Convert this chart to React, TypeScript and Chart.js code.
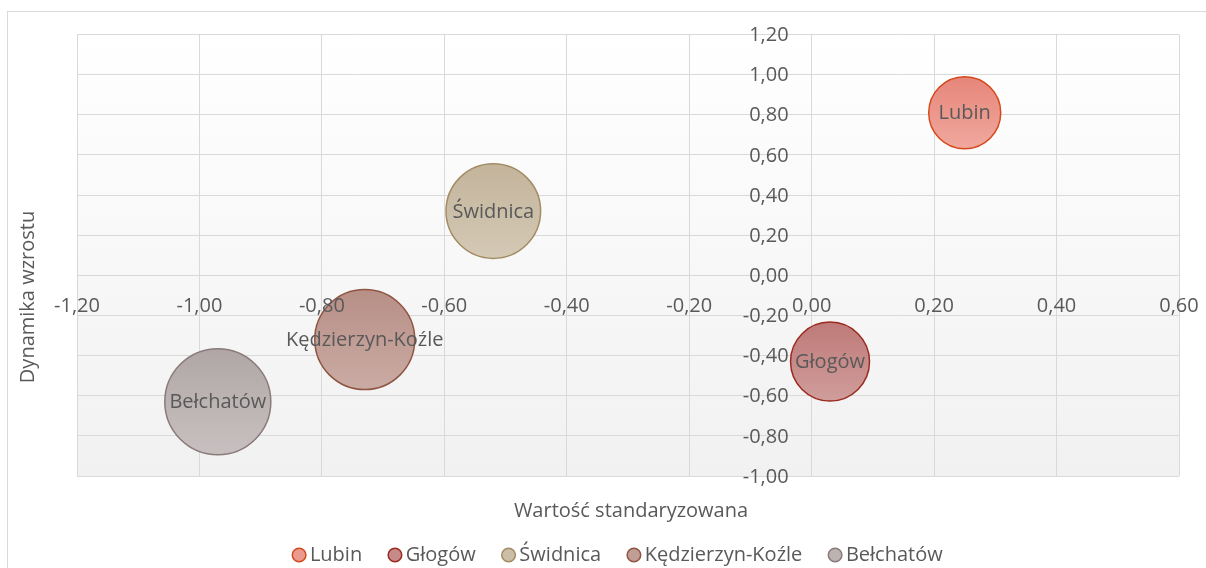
import React, { useEffect, useRef } from 'react';
import { Chart, registerables } from 'chart.js';

Chart.register(...registerables);

// ---- data ----
const cities = ['Lubin', 'Głogów', 'Świdnica', 'Kędzierzyn-Koźle', 'Bełchatów'];
const standardizedValue = [0.25, 0.03, -0.52, -0.73, -0.97];
const growthDynamics = [0.81, -0.43, 0.32, -0.32, -0.63];
const bubbleRadius = [36, 39.5, 47.3, 50, 53];

const fillTop = ['#E7867A', '#BE7A78', '#C3B49B', '#B78F86', '#B0A6A6'];
const fillBottom = ['#F0A89E', '#CF9D9B', '#D4C9B5', '#CAABA4', '#C8C0C0'];
const legendFill = ['#EC998E', '#C68A88', '#CBBFA8', '#C09D95', '#BCB3B3'];
const borderColors = ['#D4491C', '#9B2B20', '#A38C64', '#905542', '#8A7A7A'];

const xTitle = 'Wartość standaryzowana';
const yTitle = 'Dynamika wzrostu';
const X_MIN = -1.2;
const X_MAX = 0.6;
const Y_MIN = -1.0;
const Y_MAX = 1.2;
const STEP = 0.2;

const FONT = "'Open Sans', sans-serif";
const TEXT = '#595959';
const GRID = '#D9D9D9';
const FS = 20;

const fmt = (v: number) => (Math.abs(v) < 1e-9 ? 0 : v).toFixed(2).replace('.', ',');

const noScalePadding = (scale: any) => {
  scale.paddingLeft = 0;
  scale.paddingRight = 0;
  scale.paddingTop = 0;
  scale.paddingBottom = 0;
};

const decorPlugin = {
  id: 'decor',
  beforeDraw(chart: any) {
    const { ctx, chartArea: a } = chart;
    ctx.save();
    ctx.strokeStyle = GRID;
    ctx.lineWidth = 1;
    ctx.strokeRect(7.5, 11.5, 1400, 900);
    const g = ctx.createLinearGradient(0, a.top, 0, a.bottom);
    g.addColorStop(0, '#FFFFFF');
    g.addColorStop(1, '#F1F1F1');
    ctx.fillStyle = g;
    ctx.fillRect(a.left, a.top, a.right - a.left, a.bottom - a.top);
    ctx.restore();
  },
  afterDatasetsDraw(chart: any) {
    const { ctx } = chart;
    ctx.save();
    ctx.font = `${FS}px ${FONT}`;
    ctx.fillStyle = TEXT;
    ctx.textAlign = 'center';
    ctx.textBaseline = 'middle';
    chart.data.datasets.forEach((ds: any, i: number) => {
      const el = chart.getDatasetMeta(i).data[0];
      if (el) ctx.fillText(ds.label, el.x, el.y + 1);
    });
    ctx.restore();
  },
  afterDraw(chart: any) {
    const { ctx } = chart;
    const xs = chart.scales.x;
    const ys = chart.scales.y;
    ctx.save();
    ctx.font = `${FS}px ${FONT}`;
    ctx.fillStyle = TEXT;
    // y tick labels, left of the vertical axis at x = 0
    ctx.textAlign = 'right';
    ctx.textBaseline = 'middle';
    const axisX = xs.getPixelForValue(0);
    ys.ticks.forEach((t: any) => {
      ctx.fillText(fmt(t.value), axisX - 23, ys.getPixelForValue(t.value) + 1);
    });
    // x axis title
    ctx.textAlign = 'center';
    ctx.fillText(xTitle, 631, 511);
    // y axis title
    ctx.save();
    ctx.translate(28, 297);
    ctx.rotate(-Math.PI / 2);
    ctx.fillText(yTitle, 0, 0);
    ctx.restore();
    // legend
    const circleR = 6.8;
    const gapText = 4;
    const gapItem = 26;
    const widths = chart.data.datasets.map((ds: any) => ctx.measureText(ds.label).width);
    const total = widths.reduce((s: number, w: number) => s + 2 * circleR + gapText + w, 0) + gapItem * (widths.length - 1);
    let x = 617.5 - total / 2;
    const ly = 555;
    ctx.textAlign = 'left';
    chart.data.datasets.forEach((ds: any, i: number) => {
      ctx.beginPath();
      ctx.arc(x + circleR, ly, circleR, 0, Math.PI * 2);
      ctx.fillStyle = legendFill[i];
      ctx.fill();
      ctx.lineWidth = 1.5;
      ctx.strokeStyle = borderColors[i];
      ctx.stroke();
      ctx.fillStyle = TEXT;
      ctx.fillText(ds.label, x + 2 * circleR + gapText, ly);
      x += 2 * circleR + gapText + widths[i] + gapItem;
    });
    ctx.restore();
  },
};

export default function App() {
  const ref = useRef<HTMLCanvasElement>(null);
  useEffect(() => {
    const canvas = ref.current;
    if (!canvas) return;
    const chart = new Chart(canvas, {
      type: 'bubble',
      data: {
        datasets: cities.map((name, i) => ({
          label: name,
          data: [{ x: standardizedValue[i], y: growthDynamics[i], r: bubbleRadius[i] }],
          backgroundColor: (c: any) => {
            const ch = c.chart;
            if (!ch.chartArea || !ch.scales || !ch.scales.y || c.type !== 'data') return legendFill[i];
            const raw = c.raw;
            const py = ch.scales.y.getPixelForValue(raw.y);
            const g = ch.ctx.createLinearGradient(0, py - raw.r, 0, py + raw.r);
            g.addColorStop(0, fillTop[i]);
            g.addColorStop(1, fillBottom[i]);
            return g;
          },
          borderColor: borderColors[i],
          borderWidth: 1.5,
        })),
      },
      options: {
        responsive: false,
        animation: false,
        events: [],
        layout: { autoPadding: false, padding: { left: 77, right: 27, top: 34.5, bottom: 92 } },
        scales: {
          x: {
            type: 'linear',
            min: X_MIN,
            max: X_MAX,
            position: { y: 0 },
            afterFit: noScalePadding,
            ticks: {
              stepSize: STEP,
              callback: (v: any) => fmt(Number(v)),
              color: TEXT,
              font: { family: FONT, size: FS },
              padding: 19,
              z: 1,
              maxRotation: 0,
              autoSkip: false,
            },
            grid: { color: GRID, drawTicks: false, lineWidth: 1 },
            border: { color: GRID },
          },
          y: {
            type: 'linear',
            min: Y_MIN,
            max: Y_MAX,
            position: { x: 0 },
            afterFit: noScalePadding,
            ticks: { stepSize: STEP, display: false },
            grid: { color: GRID, drawTicks: false, lineWidth: 1 },
            border: { color: GRID },
          },
        },
        plugins: {
          legend: { display: false },
          tooltip: { enabled: false },
        },
      } as any,
      plugins: [decorPlugin],
    });
    return () => chart.destroy();
  }, []);
  return (
    <div style={{ position: 'fixed', left: 0, top: 0, width: 1206, height: 568, overflow: 'hidden', background: '#fff' }}>
      <canvas ref={ref} width={1206} height={568} style={{ display: 'block' }} />
    </div>
  );
}
